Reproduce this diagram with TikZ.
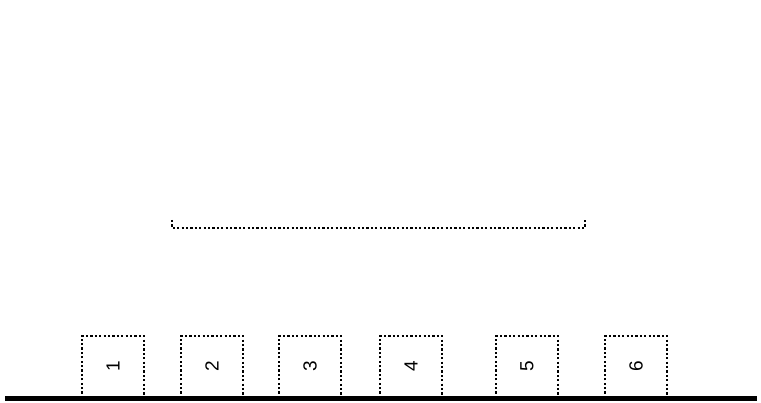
\documentclass[tikz,border=0pt]{standalone}
\usepackage{fontspec}
\setmainfont{Liberation Sans}
\usetikzlibrary{positioning}
\tikzset{
  slotline/.style={black,line width=1.6pt,dash pattern=on 2.2pt off 2.2pt},
  slotlabel/.style={font=\fontsize{19}{19}\selectfont,rotate=90,inner sep=0pt},
}
\newcommand{\slotbox}[3]{\draw[slotline] (#1,4) -- (#1,66) -- ++(62,0) -- ++(0,-62);
  \node[slotlabel] (#3) at (#1+31,36) {#2};}

\begin{document}
\begin{tikzpicture}[x=1pt,y=1pt]
\useasboundingbox (0,0) rectangle (761,402);
% bracket over slots
\draw[slotline] (172,182) -- (172,174) -- (585,174) -- (585,182);
% slots
\slotbox{82}{1}{slot1} \slotbox{181}{2}{slot2} \slotbox{279}{3}{slot3}
\slotbox{380}{4}{slot4} \slotbox{496}{5}{slot5} \slotbox{605}{6}{slot6}
% base
\draw[line width=4.5pt] (5,3.5) -- (757,3.5);
\end{tikzpicture}
\end{document}
